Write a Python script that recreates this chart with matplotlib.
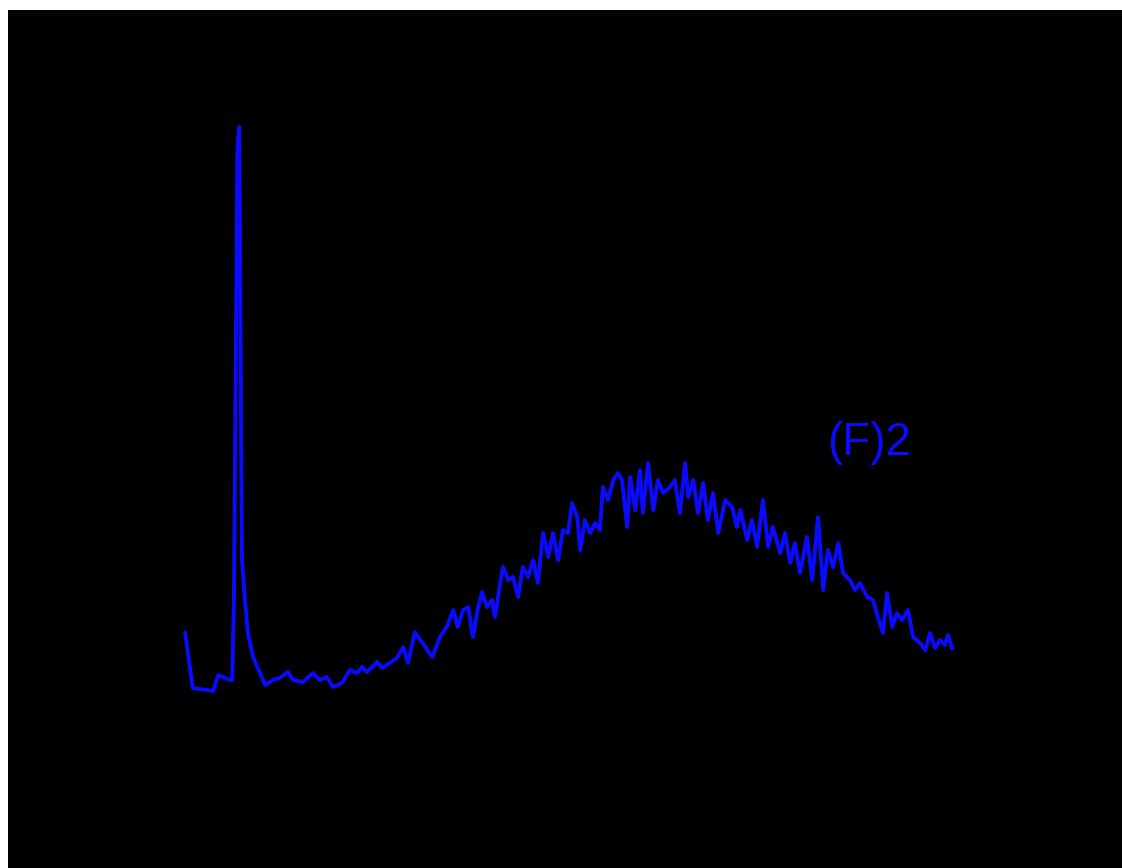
import matplotlib
matplotlib.use('Agg')
import matplotlib.pyplot as plt
from matplotlib.patches import Rectangle

# Spectrum (wavelength in nm, intensity in a.u.)
wavelength = [219.0, 220.3, 223.8, 224.7, 225.5, 226.7, 227.1, 227.4, 227.8, 228.0,
              228.3, 228.4, 228.6, 228.8, 229.3, 229.8, 230.7, 231.9, 232.8, 234.1,
              235.3, 236.7, 237.6, 239.3, 241.0, 242.2, 243.4, 244.5, 246.0, 247.4,
              248.6, 249.5, 250.3, 252.1, 252.9, 254.3, 255.5, 256.6, 257.4, 258.6,
              259.8, 261.6,
              262.9, 264.1, 265.2, 266.0, 266.9, 267.8, 268.6, 269.5, 270.2, 271.0,
              271.9, 272.4, 273.3, 273.8, 274.7, 275.5, 276.4, 277.2, 278.1, 279.0,
              279.8, 280.7, 281.6, 282.4, 283.3, 284.1, 285.0, 285.7, 286.6, 287.1,
              287.9, 288.8, 289.7, 290.5, 291.0, 291.9, 292.8, 293.6, 294.3, 295.2,
              295.7, 296.6, 297.4, 297.9, 298.8, 299.7, 300.5, 301.4, 302.6, 303.4,
              304.3, 305.2, 305.7, 306.6, 307.4, 308.3, 309.1, 310.0, 310.9,
              312.1, 313.3, 314.1, 314.7, 315.9, 316.7, 317.6, 318.6, 319.5, 320.3,
              321.6, 322.4, 323.3, 324.1, 325.0, 326.2, 327.1, 328.1, 329.0, 329.8,
              330.7, 331.6, 332.4, 333.6, 334.5, 335.3, 336.6, 337.6, 338.4, 339.3,
              340.0, 340.9, 341.7, 342.6, 343.6, 344.5, 345.7, 346.6, 347.4, 348.3,
              349.1, 350.0, 350.5, 351.2]
intensity = [67, 12, 9, 25, 23, 20, 20, 100, 400, 550,
             573, 500, 300, 140, 100, 67, 43, 27, 15, 20,
             22, 28, 20, 18, 27, 20, 23, 13, 17, 30,
             27, 33, 28, 38, 32, 37, 42, 53, 37, 68,
             58, 43,
             63, 73, 90, 73, 90, 93, 63, 93, 108, 93,
             100, 83, 117, 133, 120, 123, 103, 133, 123, 140,
             117, 167, 143, 167, 140, 170, 167, 197, 183, 150,
             180, 167, 177, 170, 213, 200, 220, 227, 220, 173,
             223, 190, 230, 187, 237, 190, 220, 207, 213, 220,
             187, 237, 203, 220, 187, 217, 180, 207, 167,
             200, 193, 173, 190, 160, 180, 153, 200, 153, 173,
             147, 167, 137, 157, 127, 163, 120, 183, 110, 150,
             133, 157, 127, 120, 110, 117, 103, 100, 83, 67,
             107, 73, 87, 80, 90, 63, 57, 50, 67, 52,
             60, 55, 65, 52]

xticks = [250, 300, 350]

fig = plt.figure(figsize=(11.22, 8.68), dpi=100, facecolor='black')
ax = fig.add_axes([0.1337, 0.1935, 0.7576, 0.6912])
ax.set_facecolor('black')

ax.plot(wavelength, intensity, color='#0a0aff', lw=2.8)

ax.set_xlim(212.93, 359.48)
ax.set_ylim(0, 600)
ax.set_xticks(xticks)
ax.set_yticks([])
ax.tick_params(axis='x', colors='black', labelsize=20, length=0)
for lab in ax.get_xticklabels():
    lab.set_family('Liberation Serif')
ax.set_xlabel('Wavelength (nm)', color='black', fontsize=20,
              family='Liberation Serif', labelpad=18)
ax.set_ylabel('Intensity (a.u.)', color='black', fontsize=20,
              family='Liberation Serif', labelpad=30)
for s in ax.spines.values():
    s.set_visible(False)

ax.text(329.66, 245, '(F)2', color='#0a0aff', fontsize=33,
        family='Liberation Sans', ha='left', va='baseline')

# white margin strips along the top and left edges
fig.patches.append(Rectangle((0, 0), 8 / 1122, 1, transform=fig.transFigure,
                             facecolor='white', edgecolor='none', zorder=10))
fig.patches.append(Rectangle((0, 1 - 10 / 868), 1, 10 / 868, transform=fig.transFigure,
                             facecolor='white', edgecolor='none', zorder=10))

fig.savefig('out.png', dpi=100, facecolor='black')
